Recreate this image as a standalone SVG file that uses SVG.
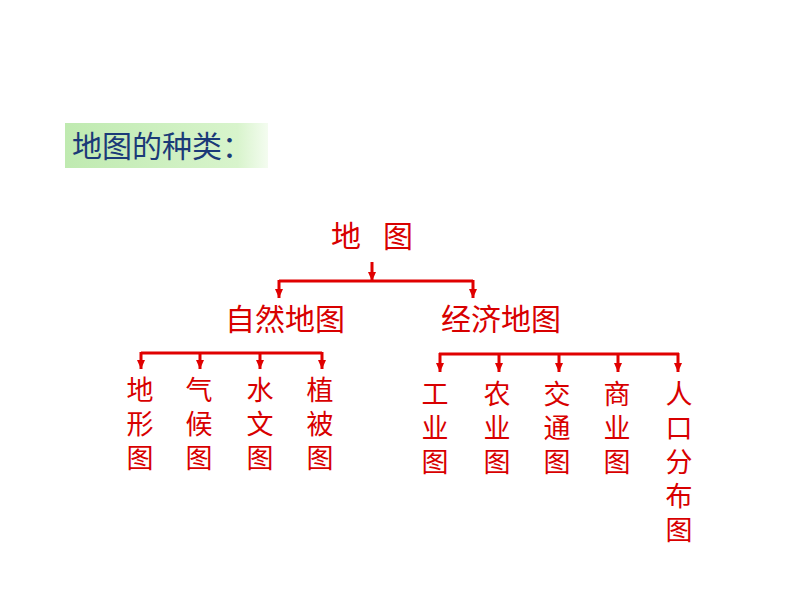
<svg xmlns="http://www.w3.org/2000/svg" width="794" height="596" viewBox="0 0 794 596">
<style>
.t{font-family:"Noto Sans CJK SC","Noto Sans",sans-serif;fill:#d80000;text-anchor:middle}
.m{font-size:30px}
.v{font-family:"Noto Sans CJK SC","Noto Sans",sans-serif;fill:#d80000;font-size:27px;writing-mode:vertical-rl;letter-spacing:7px}
.ln{stroke:#e00000;stroke-width:3;fill:none}
</style>
<defs>
<linearGradient id="g" x1="0" y1="0" x2="1" y2="0">
<stop offset="0" stop-color="#bfeab0"/>
<stop offset="0.85" stop-color="#d8f4cc"/>
<stop offset="1" stop-color="#f4fcf0"/>
</linearGradient>
<marker id="a" markerWidth="9" markerHeight="8" refX="9" refY="4" orient="auto" markerUnits="userSpaceOnUse" viewBox="0 0 9 8">
<path d="M0,0 L9,4 L0,8 Z" fill="#e00000"/>
</marker>
</defs>
<rect width="794" height="596" fill="#ffffff"/>
<g id="title">
<rect x="65" y="123" width="203" height="45" fill="url(#g)"/>
<text x="72" y="157" font-family="Noto Sans CJK SC,sans-serif" font-size="30" fill="#1b3a78">地图的种类：</text>
</g>
<g id="connectors">
<line class="ln" x1="372" y1="262" x2="372" y2="281" marker-end="url(#a)"/>
<line class="ln" x1="279" y1="281" x2="473" y2="281"/>
<line class="ln" x1="279" y1="280" x2="279" y2="298" marker-end="url(#a)"/>
<line class="ln" x1="473" y1="280" x2="473" y2="298" marker-end="url(#a)"/>
<line class="ln" x1="141" y1="353" x2="322" y2="353"/>
<line class="ln" x1="141" y1="352" x2="141" y2="369" marker-end="url(#a)"/>
<line class="ln" x1="200" y1="352" x2="200" y2="369" marker-end="url(#a)"/>
<line class="ln" x1="260" y1="352" x2="260" y2="369" marker-end="url(#a)"/>
<line class="ln" x1="322" y1="352" x2="322" y2="369" marker-end="url(#a)"/>
<line class="ln" x1="439" y1="354" x2="679" y2="354"/>
<line class="ln" x1="440" y1="353" x2="440" y2="372" marker-end="url(#a)"/>
<line class="ln" x1="499" y1="353" x2="499" y2="372" marker-end="url(#a)"/>
<line class="ln" x1="559" y1="353" x2="559" y2="372" marker-end="url(#a)"/>
<line class="ln" x1="618" y1="353" x2="618" y2="372" marker-end="url(#a)"/>
<line class="ln" x1="678" y1="353" x2="678" y2="372" marker-end="url(#a)"/>
</g>
<g id="root"><text class="t m" x="346" y="247">地</text><text class="t m" x="398" y="247">图</text></g>
<g id="natural"><text class="t m" x="285" y="330">自然地图</text></g>
<g id="economic"><text class="t m" x="501" y="330">经济地图</text></g>
<g id="n1"><text class="v" x="140" y="376">地形图</text></g>
<g id="n2"><text class="v" x="199" y="376">气候图</text></g>
<g id="n3"><text class="v" x="260" y="376">水文图</text></g>
<g id="n4"><text class="v" x="320" y="376">植被图</text></g>
<g id="e1"><text class="v" x="435" y="380">工业图</text></g>
<g id="e2"><text class="v" x="497" y="380">农业图</text></g>
<g id="e3"><text class="v" x="557" y="380">交通图</text></g>
<g id="e4"><text class="v" x="617" y="380">商业图</text></g>
<g id="e5"><text class="v" x="679" y="380">人口分布图</text></g>
</svg>
